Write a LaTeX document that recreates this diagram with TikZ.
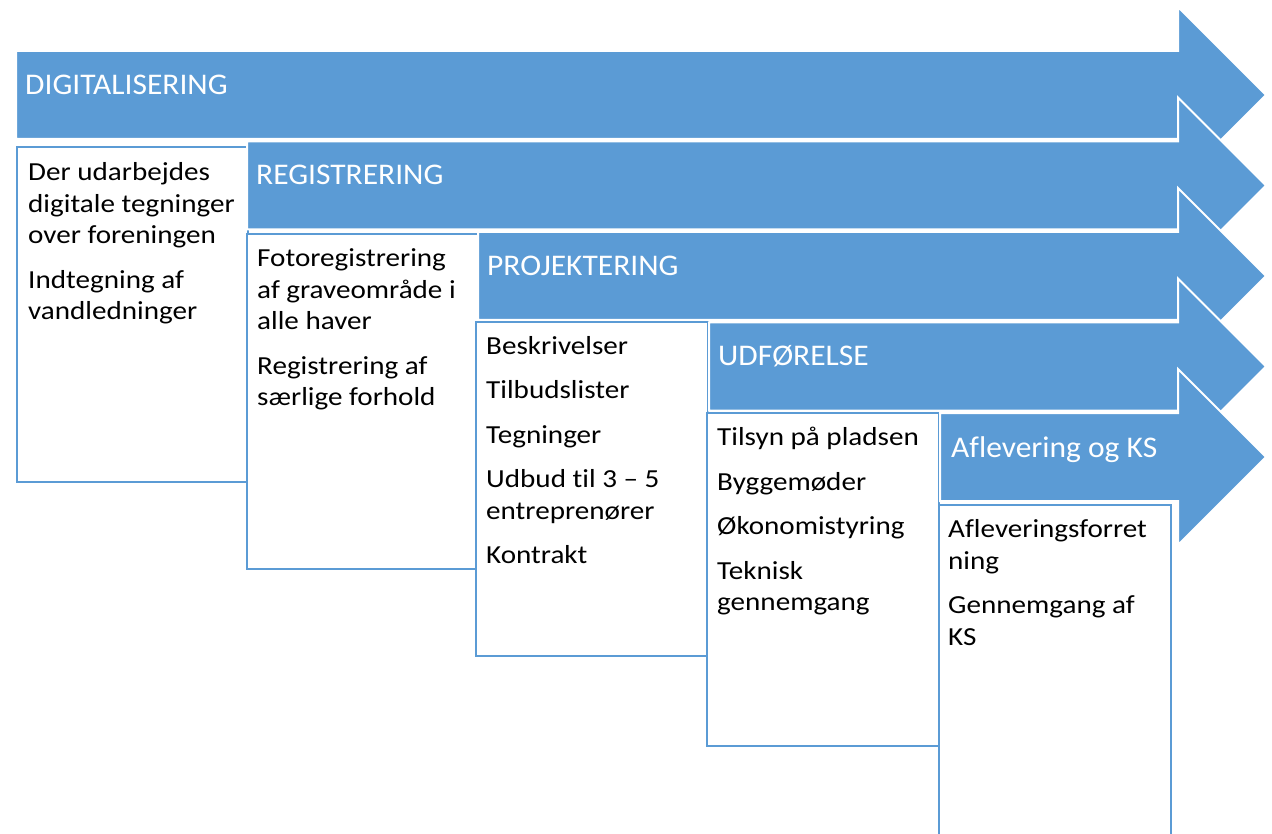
\documentclass[tikz,border=0pt]{standalone}
\usepackage{fontspec}
\setmainfont{Carlito}
\newfontfamily\boxfont{Carlito}[FakeStretch=1.12,Ligatures={NoCommon,NoRare}]
\newfontfamily\titlefont{Carlito}[FakeStretch=1.05,Ligatures={NoCommon,NoRare}]
\definecolor{office}{HTML}{5B9BD5}
\tikzset{
  phase/.style={fill=office,draw=white,line width=2pt,line join=miter},
  stepbox/.style={fill=white,draw=office,line width=2pt},
  ttl/.style={anchor=base west,inner sep=0pt,text=white,font=\titlefont\fontsize{30pt}{36pt}\selectfont},
  txt/.style={anchor=north west,inner sep=0pt,align=left,text=black,font=\boxfont\fontsize{26pt}{31.5pt}\selectfont}
}
\newcommand{\phasearrow}[2]{% #1 = left x, #2 = body top y
  \pgfmathsetmacro{\arrBt}{#2}\pgfmathsetmacro{\arrBb}{#2+88}\pgfmathsetmacro{\arrBc}{#2+44}%
  \pgfmathsetmacro{\arrHt}{#2+44-88}\pgfmathsetmacro{\arrHb}{#2+44+88}%
  \path[phase] (#1,\arrBt) -- (1178,\arrBt) -- (1178,\arrHt) -- (1266,\arrBc) -- (1178,\arrHb) -- (1178,\arrBb) -- (#1,\arrBb) -- cycle;
}
\begin{document}
\begin{tikzpicture}[x=1pt,y=-1pt]
\useasboundingbox (0,0) rectangle (1272,834);
% phase 1
\phasearrow{16}{51}
\node[ttl] (t1) at (25,94.5) {DIGITALISERING};
\path[stepbox] (17,147) rectangle (248,482);
\node[txt] (b1) at (28,158.45) {\strut Der udarbejdes\\ digitale tegninger\\ over foreningen\\[13pt] Indtegning af\\ vandledninger};
% phase 2
\phasearrow{247}{141.5}
\node[ttl] (t2) at (256,185) {REGISTRERING};
\path[stepbox] (247,234) rectangle (478,569);
\node[txt] (b2) at (257,244.45) {\strut Fotoregistrering\\ af graveområde i\\ alle haver\\[13pt] Registrering af\\ særlige forhold};
% phase 3
\phasearrow{478}{232}
\node[ttl] (t3) at (487,275.5) {PROJEKTERING};
\path[stepbox] (476,322) rectangle (708,656);
\node[txt] (b3) at (486,331.95) {\strut Beskrivelser\\[13pt] Tilbudslister\\[13pt] Tegninger\\[13pt] Udbud til 3 – 5\\ entreprenører\\[13pt] Kontrakt};
% phase 4
\phasearrow{709}{322.5}
\node[ttl] (t4) at (718,366) {UDFØRELSE};
\path[stepbox] (707,413) rectangle (939,746);
\node[txt] (b4) at (717,423.45) {\strut Tilsyn på pladsen\\[13pt] Byggemøder\\[13pt] Økonomistyring\\[13pt] Teknisk\\ gennemgang};
% phase 5
\phasearrow{940}{413}
\node[ttl] (t5) at (951,457) {Aflevering og KS};
\path[stepbox] (939,505) rectangle (1171,845);
\node[txt] (b5) at (948,515.45) {\strut Afleveringsforret\\ ning\\[13pt] Gennemgang af\\ KS};
\end{tikzpicture}
\end{document}
